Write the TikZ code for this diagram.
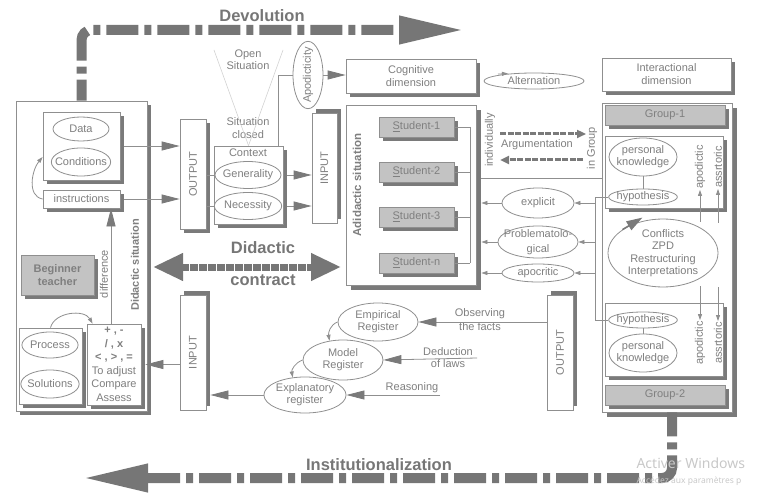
\documentclass[tikz,border=0pt]{standalone}
\usepackage{fontspec}
\setmainfont{Liberation Sans}
\newfontfamily\winfont{Noto Sans}
\usetikzlibrary{arrows.meta,positioning,shapes.geometric,calc,shadows}
\definecolor{txt}{HTML}{7F7F7F}
\definecolor{lnc}{HTML}{8F8F8F}
\definecolor{shc}{HTML}{7A7A7A}
\definecolor{stf}{HTML}{C3C3C3}
\definecolor{bigc}{HTML}{767676}
\definecolor{vlc}{HTML}{D2D2D2}
\definecolor{wmc}{HTML}{C8C8C8}

\begin{document}
\begin{tikzpicture}[x=1pt, y=-1pt,
    every node/.style={text=txt, font=\fontsize{11}{12}\selectfont},
    box/.style={draw=lnc, fill=white, line width=0.8pt,
                drop shadow={shadow xshift=#1, shadow yshift=-#1,
                             fill=shc, opacity=1}},
    box/.default=4pt,
    boxup/.style={draw=lnc, fill=white, line width=0.8pt,
                  drop shadow={shadow xshift=4pt, shadow yshift=4pt,
                               fill=shc, opacity=1}},
    gbox/.style={box, fill=stf},
    ell/.style={draw=lnc, ellipse, line width=0.8pt, inner sep=0pt,
                align=center},
    rot/.style={rotate=90, inner sep=1pt},
    wire/.style={draw=lnc, line width=0.8pt},
    vline/.style={draw=vlc, line width=0.6pt},
    arrm/.style={wire, -{Triangle[length=18pt,width=9pt,color=shc]}},
    arrs/.style={wire, -{Triangle[length=6pt,width=4pt]}},
    dasharr/.style={draw=shc, line width=3pt, dash pattern=on 6pt off 1.5pt,
                    -{Triangle[length=9pt,width=8pt]}},
    bigarr/.style={draw=bigc, line width=10pt,
                   dash pattern=on 32pt off 6pt on 7pt off 6pt,
                   rounded corners=10pt, -{Triangle[length=66pt,width=26pt]}},
    contract/.style={draw=bigc, line width=7pt, dash pattern=on 7.5pt off 1.5pt,
                     {Triangle[length=30pt,width=26pt]}-{Triangle[length=30pt,width=26pt]}},
    biglab/.style={font=\fontsize{16.5}{18}\selectfont\bfseries, text=bigc}
  ]
  \useasboundingbox (0,0) rectangle (768,497);

  %% --- Teacher side ---
  \node[box, minimum width=131pt, minimum height=310pt] (teach) at (81.5,256) {};
  \node[box, minimum width=77pt, minimum height=68pt] (dcbox) at (81.5,146) {};
  \node[ell, minimum width=56pt, minimum height=24pt] (data) at (81,129) {Data};
  \node[ell, minimum width=58pt, minimum height=28pt, inner xsep=-5pt] (cond) at (81,162) {Conditions};
  \node[box, minimum width=77pt, minimum height=18pt] (instr) at (81.5,199) {instructions};
  \node[gbox, minimum width=73pt, minimum height=40pt, align=center,
        font=\fontsize{11}{13}\selectfont\bfseries] (begin) at (57.5,275) {Beginner\\teacher};
  \node[box, minimum width=63pt, minimum height=76pt] (psbox) at (50.5,366) {};
  \node[ell, minimum width=56pt, minimum height=26pt] (proc) at (50,345) {Process};
  \node[ell, minimum width=58pt, minimum height=28pt, inner xsep=-2pt] (sol) at (50,384) {Solutions};
  \node[box, minimum width=54pt, minimum height=81pt, align=center, inner sep=0pt,
        font=\fontsize{11}{13.5}\selectfont] (opbox) at (114,364.5)
        {\textbf{+ , -}\\\textbf{/ , x}\\\textbf{< , > , =}\\To adjust\\Compare\\Assess};
  \node[rot, font=\fontsize{11}{12}\selectfont\bfseries] (dsit) at (135,265) {Didactic situation};
  \node[rot] (diff) at (104,274) {difference};
  % Teacher arrows
  \draw[arrs] (instr.west) to[out=170,in=230] ([yshift=-11pt]dcbox.west);
  \draw[arrs] (psbox.north) to[out=75,in=120] ([xshift=6pt]opbox.north west);
  \draw[arrm] ([xshift=-3pt]opbox.north) -- ([xshift=-3pt]opbox.north |- instr.south);

  %% --- Context ---
  \node[box, minimum width=26pt, minimum height=110pt] (out1) at (193,174) {};
  \node[rot] (out1t) at (out1) {OUTPUT};
  \node[box, minimum width=69pt, minimum height=78pt] (ctx) at (248.5,185) {};
  \node (ctxt) at (248,153) {Context};
  \node[ell, minimum width=66pt, minimum height=27pt, inner xsep=-2pt] (gen) at (248,175) {Generality};
  \node[ell, minimum width=66pt, minimum height=27pt] (nec) at (248,206) {Necessity};
  \node[boxup, minimum width=25pt, minimum height=110pt] (in1) at (324.5,168) {};
  \node[rot] (in1t) at (in1) {INPUT};
  \node[align=center] (open) at (248,60) {Open\\Situation};
  \node[align=center, font=\fontsize{11}{13}\selectfont] (closed) at (248,128) {Situation\\closed};
  \coordinate (vl) at (214,50);
  \coordinate (vr) at (283,50);
  \draw[vline] (vl) -- (ctx.north);
  \draw[vline] (vr) -- (ctx.north);
  \node[ell, rotate=90, minimum width=64pt, minimum height=30pt, inner xsep=-4pt] (apod) at (308,75) {Apodicticity};
  % Context arrows
  \draw[arrm] ([xshift=4pt]dcbox.east) -- (dcbox.east -| out1.west);
  \draw[arrm] ([xshift=4pt]instr.east) -- (instr.east -| out1.west);
  \draw[wire] (gen.west -| out1.east) -- (gen.west);
  \draw[wire] (nec.west -| out1.east) -- (nec.west);
  \draw[arrm] ([xshift=4pt]gen.east -| ctx.east) -- (gen.east -| in1.west);
  \draw[arrm] ([xshift=4pt]nec.east -| ctx.east) -- (nec.east -| in1.west);
  \draw[wire] ([xshift=-5pt]ctx.north east) |- (apod.north);

  %% --- Dimensions ---
  \node[box, minimum width=130pt, minimum height=34pt, align=center,
        font=\fontsize{11}{13}\selectfont] (cog) at (411,76) {Cognitive\\dimension};
  \node[ell, minimum width=100pt, minimum height=16pt] (alt) at (534,81) {Alternation};
  \node[box, minimum width=129pt, minimum height=33pt, align=center,
        font=\fontsize{11}{13}\selectfont] (inter) at (666.5,74.5) {Interactional\\dimension};
  \draw[arrm] (apod.south) -- (apod.south -| cog.west);
  \draw[arrs] ([xshift=-36pt,yshift=-1.5pt]alt.north) -- ++(10,-0.6);

  %% --- Adidactic situation ---
  \node[box=5pt, minimum width=130pt, minimum height=180pt] (adid) at (411,195) {};
  \node[rot, font=\fontsize{11.5}{12}\selectfont\bfseries] (adlab) at (357,185) {Adidactic situation};
  \foreach \n/\y in {1/127,2/172,3/217,n/263}
    \node[gbox, minimum width=75pt, minimum height=20pt] (s\n) at (416.5,\y) {\underline{S}tudent-\n};
  \coordinate (bus) at (470,0);
  \foreach \n in {1,2,3,n}
    \draw[wire] (s\n.east) -- (s\n.east -| bus);
  \draw[wire] (s1.east -| bus) -- (sn.east -| bus);

  %% --- Group side ---
  \node[box=5pt, minimum width=130pt, minimum height=309pt] (grp) at (667,257.5) {};
  \node[gbox, minimum width=120pt, minimum height=20pt] (g1) at (665,115) {Group-1};
  \node[box, minimum width=118pt, minimum height=72pt] (ub) at (664,172) {};
  \node[ell, minimum width=68pt, minimum height=38pt, inner xsep=-3pt] (pk1) at (643,157) {personal\\knowledge};
  \node[ell, minimum width=68pt, minimum height=16pt, inner xsep=-2pt] (hyp1) at (643,197) {hypothesis};
  \draw[wire] (pk1) -- (hyp1);
  \node[rot] (ap1) at (700,167) {apodictic};
  \node[rot] (as1) at (718,167) {assrtoric};
  \node[ell, minimum width=110pt, minimum height=68pt,
        font=\fontsize{11}{12.5}\selectfont] (conf) at (663,253) {Conflicts\\ZPD\\Restructuring\\Interpretations};
  \node[box, minimum width=118pt, minimum height=73pt] (lb) at (664,339.5) {};
  \node[ell, minimum width=68pt, minimum height=16pt, inner xsep=-2pt] (hyp2) at (643,320) {hypothesis};
  \node[ell, minimum width=68pt, minimum height=38pt, inner xsep=-3pt] (pk2) at (643,353) {personal\\knowledge};
  \draw[wire] (hyp2) -- (pk2);
  \node[rot] (ap2) at (700,343) {apodictic};
  \node[rot] (as2) at (718,343) {assrtoric};
  \node[gbox, minimum width=120pt, minimum height=20pt] (g2) at (665,395) {Group-2};
  % Group arrows
  \draw[draw=shc, line width=1.5pt, -{Triangle[length=16pt,width=10pt]}] (conf.150) -- ++(20,-12);
  \draw[arrs] ([yshift=-32pt]ap1.west) -- (ap1.west);
  \draw[arrs] ([yshift=-34pt]as1.west) -- (as1.west);
  \draw[arrs] ([yshift=34pt]ap2.east) -- (ap2.east);
  \draw[arrs] ([yshift=34pt]as2.east) -- (as2.east);

  %% --- Argumentation ---
  \node[rot] (indiv) at (490,140) {individually};
  \node[rot] (ingrp) at (592,148) {in Group};
  \node (argu) at (537,145) {Argumentation};
  \coordinate (a1l) at (500,134);
  \coordinate (a1r) at (586,134);
  \coordinate (a2r) at (583,160);
  \coordinate (a2l) at (500,160);
  \draw[dasharr] (a1l) -- (a1r);
  \draw[dasharr] (a2r) -- (a2l);
  \coordinate (sep) at (0,178);
  \draw[wire] ([xshift=5pt]adid.east |- sep) -- (grp.west |- sep);
  % Answers
  \node[ell, minimum width=72pt, minimum height=30pt] (expl) at (538,203) {explicit};
  \node[ell, minimum width=80pt, minimum height=32pt, inner xsep=-6pt, inner ysep=-2pt,
        font=\fontsize{11}{15}\selectfont] (prob) at (538,242) {Problematolo-\\gical};
  \node[ell, minimum width=72pt, minimum height=18pt] (apoc) at (538,273) {apocritic};
  \coordinate (vb) at (595,0);
  \draw[wire] (hyp1.west) -- (hyp1.west -| vb) -- (hyp2.west -| vb) -- (hyp2.west);
  \foreach \e in {expl,prob,apoc} {
    \draw[arrs] (\e.east -| vb) -- (\e.east);
    \draw[arrs] (\e.west) -- ([xshift=5pt]adid.east |- \e.west);
  }

  %% --- Registers ---
  \node[ell, minimum width=80pt, minimum height=38pt] (emp) at (378,322) {Empirical\\Register};
  \node[ell, minimum width=80pt, minimum height=40pt] (mod) at (343,360) {Model\\Register};
  \node[ell, minimum width=80pt, minimum height=36pt] (exr) at (305,395) {Explanatory\\register};
  \node[boxup, minimum width=26pt, minimum height=115pt] (out2) at (560,352.5) {};
  \node[rot] (out2t) at (out2) {OUTPUT};
  \node[boxup, minimum width=26pt, minimum height=115pt] (in2) at (193,352.5) {};
  \node[rot] (in2t) at (in2) {INPUT};
  \node[align=center, font=\fontsize{11}{14}\selectfont] (obs) at (480,319.5) {Observing\\the facts};
  \node[align=center] (ded) at (448,358) {Deduction\\of laws};
  \node (reas) at (412,388) {Reasoning};
  \coordinate (dedend) at (477,358);
  \coordinate (reaend) at (440,395);
  \draw[arrm] (emp.east -| out2.west) -- (emp.east);
  \draw[arrm] (dedend) -- (mod.east);
  \draw[arrm] (reaend) -- (exr.east);
  \draw[arrs] (emp.west) to[out=200,in=100] (mod.125);
  \draw[arrs] (mod.west) to[out=200,in=100] (exr.125);
  \draw[arrm] (exr.west) -- ([xshift=4pt]in2.east |- exr.west);
  \draw[arrm] (opbox.east -| in2.west) -- ([xshift=4pt]opbox.east);

  %% --- Big arrows ---
  \coordinate (devend) at (465,30);
  \draw[bigarr, dash phase=11pt] (teach.north) |- (devend);
  \node[biglab] (devlab) at (262,16) {Devolution};
  \coordinate (insend) at (82,478);
  \draw[bigarr, dash phase=8pt] ([xshift=5pt]grp.south) |- (insend);
  \node[biglab] (inslab) at (379,465) {Institutionalization};
  \coordinate (dcl) at (153,267);
  \coordinate (dcr) at (341,267);
  \draw[contract] (dcl) -- (dcr);
  \node[biglab] (didlab) at (263,248) {Didactic};
  \node[biglab] (conlab) at (263,280) {contract};

  % watermark
  \node[anchor=west, text=wmc, font=\winfont\fontsize{14}{16}\selectfont] (wm1) at (633,463) {Activer Windows};
  \node[anchor=west, text=wmc, font=\winfont\fontsize{8.5}{10}\selectfont] (wm2) at (633,481) {Accédez aux paramètres p};
\end{tikzpicture}
\end{document}
